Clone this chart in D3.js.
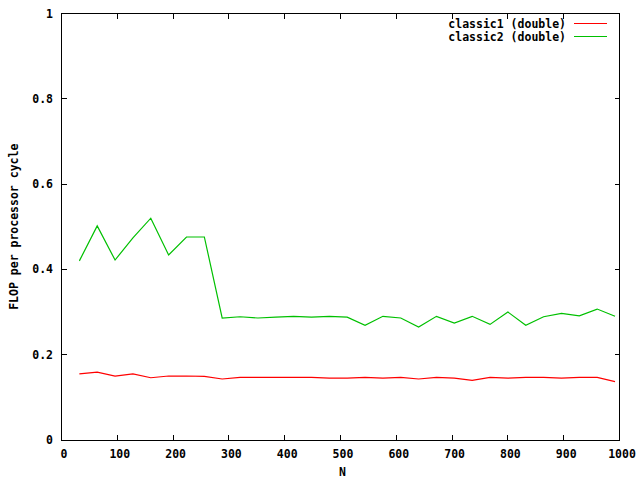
<!DOCTYPE html>
<html lang="en">
<head>
  <meta charset="utf-8">
  <title>FLOP per processor cycle</title>
  <script src="https://d3js.org/d3.v7.min.js"></script>
  <style>
    body { margin: 0; background: #fff; }
    svg { display: block; }
    text { font-family: "DejaVu Sans Mono", monospace; font-weight: bold; font-size: 11.5px; fill: #000; }
  </style>
</head>
<body>
<script>
// sample sizes N (step 32)
var sizes = [32, 64, 96, 128, 160, 192, 224, 256, 288, 320, 352, 384, 416, 448, 480, 512,
             544, 576, 608, 640, 672, 704, 736, 768, 800, 832, 864, 896, 928, 960, 992];

var classic1 = [0.155, 0.159, 0.150, 0.155, 0.146, 0.150, 0.150, 0.149, 0.143, 0.147, 0.147,
                0.147, 0.147, 0.147, 0.145, 0.145, 0.147, 0.145, 0.147, 0.143, 0.147, 0.145,
                0.140, 0.147, 0.145, 0.147, 0.147, 0.145, 0.147, 0.147, 0.137];

var classic2 = [0.420, 0.502, 0.422, 0.474, 0.520, 0.434, 0.476, 0.476, 0.286, 0.289, 0.286,
                0.288, 0.290, 0.288, 0.290, 0.288, 0.269, 0.290, 0.286, 0.265, 0.290, 0.274,
                0.290, 0.271, 0.300, 0.269, 0.289, 0.297, 0.291, 0.307, 0.290];

var seriesNames = ["classic1 (double)", "classic2 (double)"];
var seriesColors = ["#ff0000", "#00c000"];
var xTicks = [0, 100, 200, 300, 400, 500, 600, 700, 800, 900, 1000];
var yTicks = [0, 0.2, 0.4, 0.6, 0.8, 1];

var W = 640, H = 480;
var pLeft = 61.5, pRight = 619.5, pTop = 13.5, pBottom = 440;

var svg = d3.select("body").append("svg")
    .attr("width", W)
    .attr("height", H);

var x = d3.scaleLinear().domain([0, 1000]).range([pLeft, pRight]);
var y = d3.scaleLinear().domain([0, 1]).range([pBottom, pTop]);

var tick = 5;
var g = svg.append("g").attr("shape-rendering", "crispEdges");

// ticks on all four sides (mirrored, pointing inward)
xTicks.forEach(function(t) {
  g.append("line").attr("x1", x(t)).attr("x2", x(t)).attr("y1", pBottom).attr("y2", pBottom - tick).attr("stroke", "#000");
  g.append("line").attr("x1", x(t)).attr("x2", x(t)).attr("y1", pTop).attr("y2", pTop + tick).attr("stroke", "#000");
  svg.append("text").attr("x", x(t) + 2.5).attr("y", 458).attr("text-anchor", "middle").text(t);
});
yTicks.forEach(function(t) {
  g.append("line").attr("x1", pLeft).attr("x2", pLeft + tick).attr("y1", y(t)).attr("y2", y(t)).attr("stroke", "#000");
  g.append("line").attr("x1", pRight).attr("x2", pRight - tick).attr("y1", y(t)).attr("y2", y(t)).attr("stroke", "#000");
  svg.append("text").attr("x", 53).attr("y", y(t) + 4).attr("text-anchor", "end").text(t);
});

g.append("rect")
    .attr("x", pLeft).attr("y", pTop)
    .attr("width", pRight - pLeft).attr("height", pBottom - pTop)
    .attr("fill", "none").attr("stroke", "#000");

svg.append("text").attr("x", (pLeft + pRight) / 2 + 2).attr("y", 476).attr("text-anchor", "middle").text("N");
svg.append("text")
    .attr("transform", "translate(18," + ((pTop + pBottom) / 2) + ") rotate(-90)")
    .attr("text-anchor", "middle")
    .text("FLOP per processor cycle");

var line = d3.line()
    .x(function(d) { return x(d[0]); })
    .y(function(d) { return y(d[1]); });

[classic1, classic2].forEach(function(vals, i) {
  svg.append("path")
      .datum(sizes.map(function(n, j) { return [n, vals[j]]; }))
      .attr("d", line)
      .attr("fill", "none")
      .attr("stroke", seriesColors[i])
      .attr("stroke-width", 1.2);
});

// legend
seriesNames.forEach(function(name, i) {
  var ly = 23.5 + i * 13;
  svg.append("text").attr("x", 566).attr("y", ly + 4).attr("text-anchor", "end").text(name);
  svg.append("line").attr("x1", 574).attr("x2", 607).attr("y1", ly).attr("y2", ly)
      .attr("stroke", seriesColors[i]).attr("shape-rendering", "crispEdges");
});
</script>
</body>
</html>
